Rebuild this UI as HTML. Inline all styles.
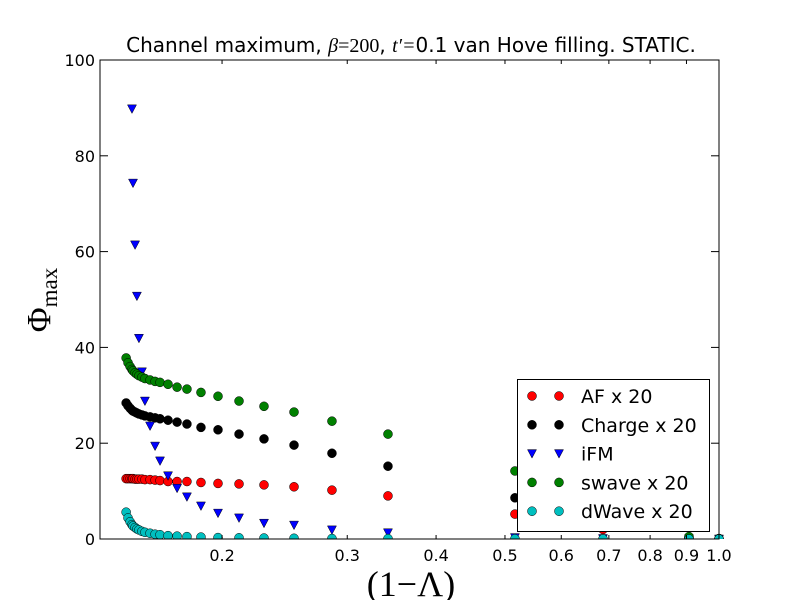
<!DOCTYPE html>
<html><head><meta charset="utf-8"><style>
body{margin:0;background:#fff;}
svg text{font-family:"DejaVu Sans","Liberation Sans",sans-serif;}
</style></head><body>
<svg id="chart" width="800" height="600" viewBox="0 0 800 600">
<rect width="800" height="600" fill="#fff"/>
<text x="411" y="52" font-size="20" text-anchor="middle">Channel maximum, <tspan font-style="italic" style="font-family:'Liberation Serif',serif">β</tspan><tspan style="font-family:'Liberation Serif',serif">=200</tspan>, <tspan font-style="italic" style="font-family:'Liberation Serif',serif">t′=</tspan>0.1 van Hove filling. STATIC.</text>
<g id="marks"></g>
<g id="axes"></g>
<text x="411" y="596" font-size="36" text-anchor="middle" style="font-family:'Liberation Serif',serif">(1−Λ)</text>
<text transform="translate(50,300) rotate(-90)" font-size="34" text-anchor="middle" style="font-family:'Liberation Serif',serif">Φ<tspan font-size="23" dy="7">max</tspan></text>
<g id="legend"></g>
</svg>
<script>
const xVals=[0.1466,0.1475,0.1485,0.1494,0.1499,0.1509,0.1518,0.1528,0.1543,0.1558,0.1584,0.1610,0.1636,0.1679,0.1729,0.1785,0.1868,0.1974,0.2113,0.2291,0.2525,0.2855,0.3423,0.5164,0.6868,0.9073,1.0];
const afVals=[12.6,12.6,12.6,12.6,12.6,12.5,12.5,12.5,12.5,12.4,12.4,12.3,12.2,12.0,12.0,12.0,11.8,11.6,11.5,11.3,10.9,10.2,9.0,5.2,2.0,0.2,0];
const chargeVals=[28.4,27.8,27.3,26.9,26.7,26.5,26.3,26.1,25.9,25.7,25.5,25.3,25.1,24.8,24.4,24.0,23.3,22.8,21.9,20.9,19.6,17.9,15.2,8.6,2.5,0.3,0];
const ifmVals=[null,null,null,89.8,74.3,61.4,50.7,41.9,34.9,28.8,23.6,19.4,16.3,13.2,10.6,8.8,6.9,5.4,4.4,3.3,2.9,1.9,1.3,0.3,0.1,0.05,0];
const swaveVals=[37.8,36.8,36.0,35.4,35.1,34.7,34.4,34.1,33.8,33.5,33.2,32.9,32.7,32.3,31.7,31.3,30.6,29.8,28.8,27.7,26.5,24.6,21.9,14.2,5.5,0.5,0.1];
const dwaveVals=[5.6,4.4,3.6,3.0,2.7,2.4,2.1,1.9,1.6,1.4,1.2,1.0,0.9,0.7,0.6,0.5,0.4,0.3,0.25,0.2,0.15,0.1,0.08,0.05,0.02,0.01,0];
const yTicks=[0,20,40,60,80,100];
const xTickVals=[0.2,0.3,0.4,0.5,0.6,0.7,0.8,0.9,1.0];
const xTickLabels=["0.2","0.3","0.4","0.5","0.6","0.7","0.8","0.9","1.0"];
const seriesNames=["AF x 20","Charge x 20","iFM","swave x 20","dWave x 20"];
const seriesColors=["#ff0000","#000000","#0000ff","#008000","#00bfbf"];

const L=100,R=719,T=60,B=539,XMIN=0.1347,XMAX=1.0,YMIN=0,YMAX=100;
const NS="http://www.w3.org/2000/svg";
function sx(v){return L+(Math.log10(v)-Math.log10(XMIN))/(Math.log10(XMAX)-Math.log10(XMIN))*(R-L);}
function sy(v){return B-(v-YMIN)/(YMAX-YMIN)*(B-T);}
function mk(tag,attrs,parent){const e=document.createElementNS(NS,tag);for(const k in attrs)e.setAttribute(k,attrs[k]);parent.appendChild(e);return e;}
const marks=document.getElementById('marks');
const clip=mk('clipPath',{id:'cp'},marks);mk('rect',{x:L,y:T-6,width:R-L+6,height:B-T+6},clip);
const mg=mk('g',{'clip-path':'url(#cp)'},marks);
function circle(x,y,c,parent){return mk('circle',{cx:x,cy:y,r:4.5,fill:c,stroke:'#000','stroke-width':0.5},parent);}
function tri(x,y,c,parent){return mk('path',{d:`M${x-4.5},${y-4} L${x+4.5},${y-4} L${x},${y+4.5} Z`,fill:c,stroke:'#000','stroke-width':0.5},parent);}
const all=[afVals,chargeVals,ifmVals,swaveVals,dwaveVals];
const keys=['af','charge','ifm','swave','dwave'];
all.forEach((vals,s)=>{
  vals.forEach((v,i)=>{
    if(v===null)return;
    let e;
    if(s===2) e=tri(sx(xVals[i]),sy(v),seriesColors[s],mg);
    else e=circle(sx(xVals[i]),sy(v),seriesColors[s],mg);
    
    
  });
});
const ax=document.getElementById('axes');
const frame=mk('rect',{x:L,y:T,width:R-L,height:B-T,fill:'none',stroke:'#000','stroke-width':1},ax);


yTicks.forEach(t=>{
  const y=sy(t);
  mk('line',{x1:L,x2:L+8,y1:y,y2:y,stroke:'#000'},ax);
  mk('line',{x1:R,x2:R-8,y1:y,y2:y,stroke:'#000'},ax);
  const tx=mk('text',{x:L-5,y:y+6,'font-size':16,'text-anchor':'end'},ax);
  tx.textContent=t;
  
  
});
xTickVals.forEach((t,i)=>{
  const x=sx(t);const len=(t===1.0)?8:4;
  mk('line',{x1:x,x2:x,y1:B,y2:B-len,stroke:'#000'},ax);
  mk('line',{x1:x,x2:x,y1:T,y2:T+len,stroke:'#000'},ax);
  const tx=mk('text',{x:x,y:B+22,'font-size':16,'text-anchor':'middle'},ax);
  tx.textContent=xTickLabels[i];
  
  
});
const lg=document.getElementById('legend');
mk('rect',{x:517.5,y:379.5,width:192,height:152,fill:'#fff',stroke:'#000','stroke-width':1},lg);
seriesNames.forEach((n,s)=>{
  const y=396+s*28.8;
  const g=mk('g',{},lg);
  
  
  [532,559].forEach(x=>{ if(s===2) tri(x,y,seriesColors[s],g); else circle(x,y,seriesColors[s],g); });
  const tx=mk('text',{x:581,y:y+7,'font-size':19},g);
  tx.textContent=n;
});
</script>
</body></html>
